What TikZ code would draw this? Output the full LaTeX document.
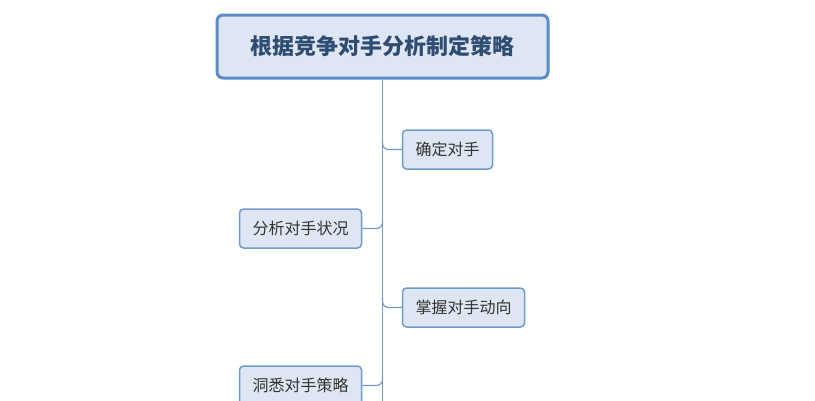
\documentclass[tikz,border=0pt]{standalone}
\usepackage{fontspec}
\newfontfamily\cjk{Noto Sans CJK SC}
\usetikzlibrary{positioning,calc}
\definecolor{boxfill}{HTML}{DDE6F2}
\definecolor{boxline}{HTML}{6F9BD0}
\definecolor{rootline}{HTML}{5B8CC8}
\definecolor{roottext}{HTML}{2F4C72}
\definecolor{subtext}{HTML}{333333}

\tikzset{
  rootbox/.style={draw=rootline, fill=boxfill, line width=3pt, rounded corners=6pt,
    minimum width=331pt, minimum height=63pt, inner sep=0pt,
    font=\cjk\bfseries\fontsize{22}{24}\selectfont, text=roottext},
  subbox/.style={draw=boxline, fill=boxfill, line width=1.5pt, rounded corners=4pt,
    minimum height=39pt, inner xsep=13pt, inner ysep=0pt,
    font=\cjk\fontsize{16}{18}\selectfont, text=subtext},
  link/.style={draw=boxline, line width=1.2pt, rounded corners=6pt}
}

\begin{document}
\begin{tikzpicture}[x=1pt, y=-1pt]
    \useasboundingbox (0,0) rectangle (815,400);
    \node[rootbox] (root) at (382.5,46.5) {根据竞争对手分析制定策略};
    \node[subbox] (find)   at (447.5,149.5) {确定对手};
    \node[subbox] (state)  at (300.5,228.5) {分析对手状况};
    \node[subbox] (move)   at (463.5,307.5) {掌握对手动向};
    \node[subbox] (plan)   at (300.5,385.5) {洞悉对手策略};
    % trunk
    \coordinate (bottom) at (root.south |- 0,420);
    \draw[link] (root.south) -- (bottom);
    % branches
    \draw[link] ($(root.south |- find.west)+(0,-10)$) |- (find.west);
    \draw[link] ($(root.south |- state.east)+(0,-10)$) |- (state.east);
    \draw[link] ($(root.south |- move.west)+(0,-10)$) |- (move.west);
    \draw[link] ($(root.south |- plan.east)+(0,-10)$) |- (plan.east);
\end{tikzpicture}
\end{document}
